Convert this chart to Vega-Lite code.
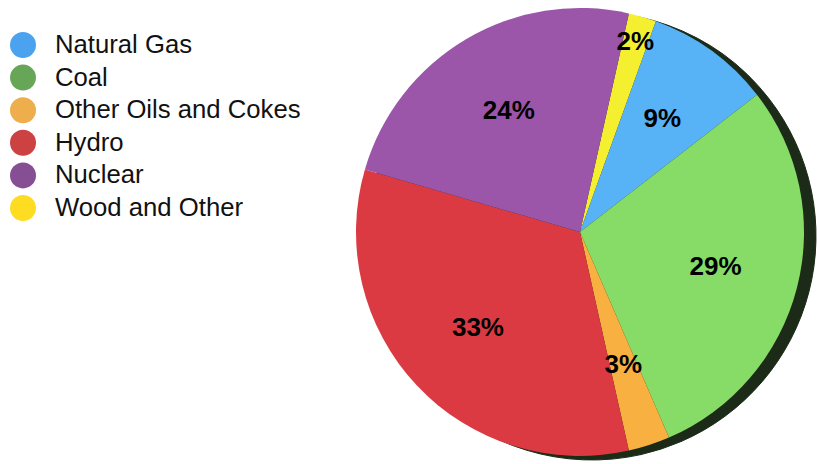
{
  "$schema": "https://vega.github.io/schema/vega-lite/v6.json",
  "autosize": "none",
  "width": 448,
  "height": 448,
  "padding": {"left": 356, "top": 8, "right": 13, "bottom": 8},
  "background": "white",
  "config": {"view": {"stroke": null}},
  "data": {
    "values": [
      {"source": "Wood and Other", "value": 2, "label": "2%", "rank": 1},
      {"source": "Natural Gas", "value": 9, "label": "9%", "rank": 2},
      {"source": "Coal", "value": 29, "label": "29%", "rank": 3},
      {"source": "Other Oils and Cokes", "value": 3, "label": "3%", "rank": 4},
      {"source": "Hydro", "value": 33, "label": "33%", "rank": 5},
      {"source": "Nuclear", "value": 24, "label": "24%", "rank": 6}
    ]
  },
  "encoding": {
    "theta": {"field": "value", "type": "quantitative", "stack": true, "scale": {"range": [0.22, 6.5032]}},
    "order": {"field": "rank", "type": "quantitative"}
  },
  "layer": [
    {
      "mark": {"type": "arc", "color": "#1c2a18", "stroke": "#1c2a18", "strokeWidth": 1, "xOffset": 12, "yOffset": 4}
    },
    {
      "mark": {"type": "arc", "stroke": null},
      "encoding": {
        "color": {
          "field": "source", "type": "nominal", "legend": null,
          "scale": {
            "domain": ["Natural Gas", "Coal", "Other Oils and Cokes", "Hydro", "Nuclear", "Wood and Other"],
            "range": ["#58b3f6", "#86dc66", "#f8b040", "#dc3a42", "#9b56aa", "#f4f030"]
          }
        }
      }
    },
    {
      "mark": {"type": "arc", "opacity": 0},
      "encoding": {
        "color": {
          "field": "source", "type": "nominal",
          "scale": {
            "domain": ["Natural Gas", "Coal", "Other Oils and Cokes", "Hydro", "Nuclear", "Wood and Other"],
            "range": ["#4ba3ef", "#68a657", "#eeae4b", "#cc4141", "#864f93", "#fddc22"]
          },
          "legend": {
            "title": null,
            "orient": "none",
            "legendX": -346,
            "legendY": 24,
            "padding": 0,
            "symbolType": "circle",
            "symbolSize": 676,
            "symbolOpacity": 1,
            "symbolStrokeWidth": 0,
            "labelFont": "Liberation Sans",
            "labelFontSize": 25.7,
            "labelColor": "#111111",
            "labelOffset": 19,
            "labelLimit": 400,
            "rowPadding": 6.6
          }
        }
      }
    },
    {
      "mark": {"type": "text", "radius": 140, "font": "Liberation Sans", "fontSize": 26, "fontWeight": "bold", "color": "#000000"},
      "encoding": {
        "text": {"condition": {"test": "datum.source !== 'Wood and Other'", "field": "label"}, "value": ""}
      }
    },
    {
      "mark": {"type": "text", "radius": 198, "font": "Liberation Sans", "fontSize": 26, "fontWeight": "bold", "color": "#000000"},
      "encoding": {
        "text": {"condition": {"test": "datum.source === 'Wood and Other'", "field": "label"}, "value": ""}
      }
    }
  ],
  "resolve": {"scale": {"color": "independent"}, "legend": {"color": "independent"}}
}
